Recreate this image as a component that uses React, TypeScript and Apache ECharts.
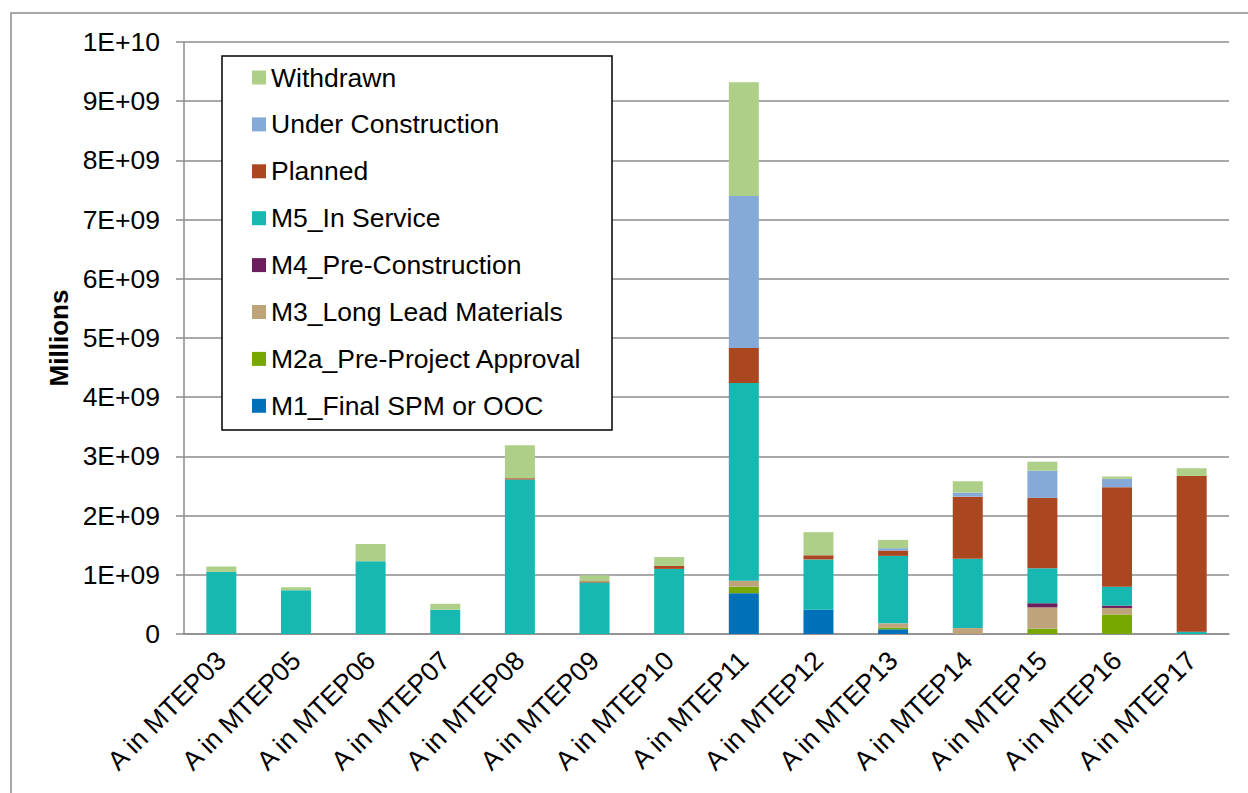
import React, { useEffect, useRef } from "react";
import * as echarts from "echarts";

const categories = [
  "A in MTEP03", "A in MTEP05", "A in MTEP06", "A in MTEP07", "A in MTEP08",
  "A in MTEP09", "A in MTEP10", "A in MTEP11", "A in MTEP12", "A in MTEP13",
  "A in MTEP14", "A in MTEP15", "A in MTEP16", "A in MTEP17",
];

const m1Final = [0, 0, 0, 0, 0, 0, 0, 0.69e9, 0.41e9, 0.08e9, 0, 0, 0, 0];
const m2aPreProject = [0, 0, 0, 0, 0, 0, 0, 0.11e9, 0, 0.03e9, 0, 0.09e9, 0.33e9, 0];
const m3LongLead = [0, 0, 0, 0, 0, 0, 0, 0.1e9, 0, 0.07e9, 0.1e9, 0.36e9, 0.11e9, 0];
const m4PreConstruction = [0, 0, 0, 0, 0, 0, 0, 0, 0, 0, 0, 0.07e9, 0.04e9, 0];
const m5InService = [1.05e9, 0.74e9, 1.23e9, 0.41e9, 2.61e9, 0.87e9, 1.1e9, 3.34e9, 0.85e9, 1.14e9, 1.17e9, 0.59e9, 0.32e9, 0.04e9];
const planned = [0, 0, 0, 0, 0.02e9, 0.02e9, 0.05e9, 0.59e9, 0.07e9, 0.09e9, 1.05e9, 1.19e9, 1.68e9, 2.63e9];
const underConstruction = [0, 0, 0, 0, 0, 0, 0, 2.57e9, 0, 0.04e9, 0.07e9, 0.46e9, 0.14e9, 0];
const withdrawn = [0.09e9, 0.05e9, 0.29e9, 0.1e9, 0.56e9, 0.1e9, 0.15e9, 1.92e9, 0.39e9, 0.14e9, 0.19e9, 0.15e9, 0.04e9, 0.13e9];

const yTickLabels = ["0", "1E+09", "2E+09", "3E+09", "4E+09", "5E+09", "6E+09", "7E+09", "8E+09", "9E+09", "1E+10"];

const seriesDefs = [
  { name: "M1_Final SPM or OOC", data: m1Final, color: "#0070B8" },
  { name: "M2a_Pre-Project Approval", data: m2aPreProject, color: "#76A800" },
  { name: "M3_Long Lead Materials", data: m3LongLead, color: "#BFA37A" },
  { name: "M4_Pre-Construction", data: m4PreConstruction, color: "#6B1D5E" },
  { name: "M5_In Service", data: m5InService, color: "#18B8B2" },
  { name: "Planned", data: planned, color: "#AA4720" },
  { name: "Under Construction", data: underConstruction, color: "#86AAD8" },
  { name: "Withdrawn", data: withdrawn, color: "#AECF87" },
];

const FONT = "Arial, 'Liberation Sans', sans-serif";

export default function App() {
  const ref = useRef<HTMLDivElement>(null);
  useEffect(() => {
    if (!ref.current) return;
    const chart = echarts.init(ref.current, null, { renderer: "svg" });
    chart.setOption({
      animation: false,
      backgroundColor: "#ffffff",
      textStyle: { fontFamily: FONT },
      grid: { left: 184, right: 19, top: 42, bottom: 159, containLabel: false },
      graphic: [
        {
          type: "rect",
          z: 0,
          silent: true,
          shape: { x: 11, y: 13, width: 1400, height: 1000 },
          style: { fill: "none", stroke: "#8c8c8c", lineWidth: 1.5 },
        },
        {
          type: "rect",
          z: 10,
          silent: true,
          shape: { x: 222, y: 56, width: 390, height: 374 },
          style: { fill: "#ffffff", stroke: "#000000", lineWidth: 1.5 },
        },
      ],
      legend: {
        z: 20,
        orient: "vertical",
        left: 252,
        top: 64,
        padding: 0,
        icon: "rect",
        itemWidth: 14,
        itemHeight: 14,
        itemGap: 19.9,
        textStyle: { fontSize: 26.5, color: "#000", fontFamily: FONT, lineHeight: 26 },
        data: seriesDefs.map((s) => s.name).reverse(),
      },
      xAxis: {
        type: "category",
        data: categories,
        axisLine: { lineStyle: { color: "#8c8c8c", width: 1.5 } },
        axisTick: { length: 8, lineStyle: { color: "#8c8c8c", width: 1.5 } },
        axisLabel: { rotate: 45, fontSize: 26.5, color: "#000", margin: 22, fontFamily: FONT },
      },
      yAxis: {
        type: "value",
        min: 0,
        max: 1e10,
        interval: 1e9,
        name: "Millions",
        nameLocation: "middle",
        nameGap: 111,
        nameTextStyle: { fontSize: 26, fontWeight: "bold", color: "#000", fontFamily: FONT },
        axisLine: { show: true, lineStyle: { color: "#8c8c8c", width: 1.5 } },
        axisTick: { show: true, length: 8, lineStyle: { color: "#8c8c8c", width: 1.5 } },
        splitLine: { lineStyle: { color: "#8c8c8c", width: 1.5 } },
        axisLabel: {
          fontSize: 26.5,
          color: "#000",
          margin: 24,
          fontFamily: FONT,
          formatter: (v: number) => yTickLabels[Math.round(v / 1e9)] ?? "",
        },
      },
      series: seriesDefs.map((s) => ({
        name: s.name,
        type: "bar",
        stack: "total",
        barWidth: 30,
        data: s.data,
        itemStyle: { color: s.color },
      })),
    });
    return () => chart.dispose();
  }, []);
  return (
    <div
      ref={ref}
      style={{ position: "fixed", left: 0, top: 0, width: 1248, height: 793 }}
    />
  );
}
